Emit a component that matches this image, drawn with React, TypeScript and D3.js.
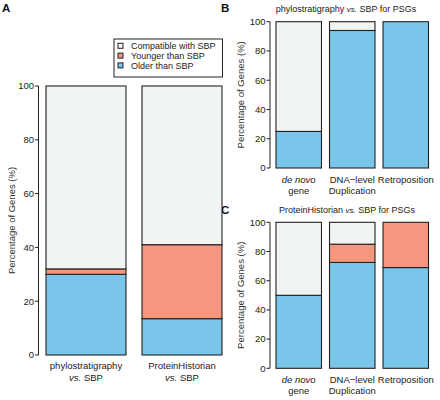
import React from "react";
import * as d3 from "d3";

const seriesKeys = ["older", "younger", "compatible"];
const seriesLabels = ["Compatible with SBP", "Younger than SBP", "Older than SBP"];
const colors: Record<string, string> = {
  older: "#7ac6ea",
  younger: "#f6967e",
  compatible: "#f0f5f1",
};

const aCategories = ["phylo", "ph"];
const aOlder = [30, 13.5];
const aYounger = [2, 27.5];
const aCompatible = [68, 59];

const psgCategories = ["denovo", "dna", "retro"];
const bOlder = [25, 94, 100];
const bYounger = [0, 0, 0];
const bCompatible = [75, 6, 0];

const cOlder = [50, 72.5, 69];
const cYounger = [0, 12.5, 31];
const cCompatible = [50, 15, 0];

const yTicks = [0, 20, 40, 60, 80, 100];

const FONT = "'Liberation Sans', Arial, Helvetica, sans-serif";
const STROKE = "#222";

type PanelProps = {
  cats: string[];
  older: number[];
  younger: number[];
  compatible: number[];
  x0: number;
  x1: number;
  yTop: number;
  yBottom: number;
  axisX: number;
  padInner: number;
  padOuter: number;
  labelX: number;
  labels: (cat: string, x: number, y: number) => React.ReactNode;
};

function Panel(p: PanelProps) {
  const x = d3.scaleBand<string>().domain(p.cats).range([p.x0, p.x1]).paddingInner(p.padInner).paddingOuter(p.padOuter);
  const y = d3.scaleLinear().domain([0, 100]).range([p.yBottom, p.yTop]);
  const rows = p.cats.map((c, i) => ({ cat: c, older: p.older[i], younger: p.younger[i], compatible: p.compatible[i] }));
  const stack = d3.stack<any>().keys(seriesKeys)(rows);
  return (
    <g>
      {stack.map((layer) =>
        layer.map((d, i) =>
          d[1] - d[0] > 0 ? (
            <rect
              key={layer.key + i}
              x={x(rows[i].cat)}
              y={y(d[1])}
              width={x.bandwidth()}
              height={y(d[0]) - y(d[1])}
              fill={colors[layer.key]}
              stroke={STROKE}
              strokeWidth={1.1}
            />
          ) : null
        )
      )}
      <line x1={p.axisX} x2={p.axisX} y1={y(100)} y2={y(0)} stroke={STROKE} strokeWidth={1} />
      {yTicks.map((t) => (
        <g key={t}>
          <line x1={p.axisX - 3.5} x2={p.axisX} y1={y(t)} y2={y(t)} stroke={STROKE} strokeWidth={1} />
          <text x={p.axisX - 4.5} y={y(t)} dy="0.35em" textAnchor="end" fontSize={9.5} fill="#222">
            {t}
          </text>
        </g>
      ))}
      <text
        transform={`translate(${p.labelX},${(y(0) + y(100)) / 2}) rotate(-90)`}
        textAnchor="middle"
        fontSize={9.5}
        fill="#333"
      >
        Percentage of Genes (%)
      </text>
      {p.cats.map((c) => p.labels(c, (x(c) as number) + x.bandwidth() / 2, p.yBottom))}
    </g>
  );
}

const aLabelLines: Record<string, [string, string]> = {
  phylo: ["phylostratigraphy", "SBP"],
  ph: ["ProteinHistorian", "SBP"],
};

function aLabels(cat: string, cx: number, yb: number) {
  const [l1, l2] = aLabelLines[cat];
  return (
    <g key={cat}>
      <text x={cx} y={yb + 14} textAnchor="middle" fontSize={9.5} fill="#222">{l1}</text>
      <text x={cx} y={yb + 26} textAnchor="middle" fontSize={9.5} fill="#222">
        <tspan fontStyle="italic">vs.</tspan> {l2}
      </text>
    </g>
  );
}

function psgLabels(cat: string, cx: number, yb: number) {
  if (cat === "denovo")
    return (
      <g key={cat}>
        <text x={cx} y={yb + 15} textAnchor="middle" fontSize={9.5} fontStyle="italic" fill="#222">de novo</text>
        <text x={cx} y={yb + 26} textAnchor="middle" fontSize={9.5} fill="#222">gene</text>
      </g>
    );
  if (cat === "dna")
    return (
      <g key={cat}>
        <text x={cx} y={yb + 15} textAnchor="middle" fontSize={9.5} fill="#222">DNA−level</text>
        <text x={cx} y={yb + 26} textAnchor="middle" fontSize={9.5} fill="#222">Duplication</text>
      </g>
    );
  return (
    <text key={cat} x={cx} y={yb + 15} textAnchor="middle" fontSize={9.5} fill="#222">Retroposition</text>
  );
}

export default function App() {
  const legendColors = [colors.compatible, colors.younger, colors.older];
  return (
    <svg width={440} height={400} style={{ display: "block", position: "absolute", left: 0, top: 0, background: "#fff" }} fontFamily={FONT}>
      <text x={2} y={12} fontSize={11.5} fontWeight="bold" fill="#111">A</text>
      <text x={221} y={12} fontSize={11.5} fontWeight="bold" fill="#111">B</text>
      <text x={221} y={214} fontSize={11.5} fontWeight="bold" fill="#111">C</text>

      {/* legend */}
      <rect x={114} y={39} width={108.5} height={38} fill="#fff" stroke={STROKE} strokeWidth={1} />
      {seriesLabels.map((l, i) => (
        <g key={l}>
          <rect x={118} y={43.3 + i * 9.8} width={5} height={5} fill={legendColors[i]} stroke={STROKE} strokeWidth={1} />
          <text x={131} y={45.8 + i * 9.8} dy="0.35em" fontSize={9} fill="#222">{l}</text>
        </g>
      ))}

      <Panel
        cats={aCategories}
        older={aOlder}
        younger={aYounger}
        compatible={aCompatible}
        x0={39}
        x1={229}
        yTop={86}
        yBottom={355}
        axisX={38.5}
        padInner={0.167}
        padOuter={0.073}
        labelX={14.5}
        labels={aLabels}
      />

      <text x={346} y={12} textAnchor="middle" fontSize={9} fill="#222">
        phylostratigraphy <tspan fontStyle="italic" fontSize={8}>vs.</tspan> SBP for PSGs
      </text>
      <Panel
        cats={psgCategories}
        older={bOlder}
        younger={bYounger}
        compatible={bCompatible}
        x0={270}
        x1={434.5}
        yTop={21.7}
        yBottom={168}
        axisX={270}
        padInner={0.15}
        padOuter={0.112}
        labelX={243.5}
        labels={psgLabels}
      />

      <text x={347} y={213} textAnchor="middle" fontSize={9} fill="#222">
        ProteinHistorian <tspan fontStyle="italic" fontSize={8}>vs.</tspan> SBP for PSGs
      </text>
      <Panel
        cats={psgCategories}
        older={cOlder}
        younger={cYounger}
        compatible={cCompatible}
        x0={270}
        x1={434.5}
        yTop={222.3}
        yBottom={368.3}
        axisX={270}
        padInner={0.15}
        padOuter={0.112}
        labelX={243.5}
        labels={psgLabels}
      />
    </svg>
  );
}
